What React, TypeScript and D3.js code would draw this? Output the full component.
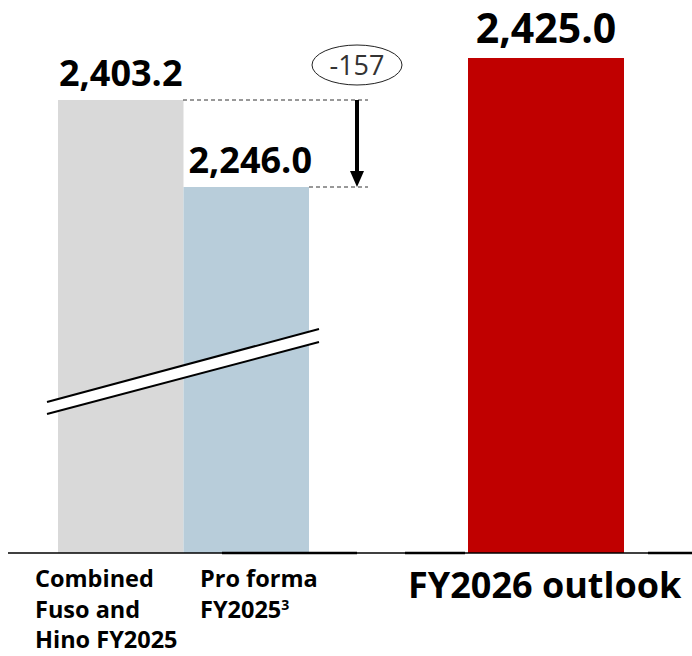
import * as d3 from 'd3';

const leftCategories = ['Combined Fuso and Hino FY2025', 'Pro forma FY2025'];
const leftValues = [2403.2, 2246.0];
const leftColors = ['#d9d9d9', '#b8cdda'];
const rightCategory = 'FY2026 outlook';
const rightValue = 2425.0;
const deltaLabel = '-157';

const W = 692;
const H = 656;
const baseY = 553;
const font = '"Open Sans", "Noto Sans", sans-serif';

export default function App() {
  const fmt = d3.format(',.1f');

  // left panel: broken axis, only the top of the bars is to scale
  const xLeft = d3.scaleBand().domain(leftCategories).range([58, 309]).padding(0);
  const yLeft = d3.scaleLinear().domain([leftValues[1], leftValues[0]]).range([187, 100]);
  const yRight = d3.scaleLinear().domain([0, rightValue]).range([baseY, 58]);
  const xRight = d3.scaleBand().domain([rightCategory]).range([468, 624]).padding(0);

  const yTop = yLeft(leftValues[0]);
  const yBot = yLeft(leftValues[1]);
  const arrowX = 357;

  return (
    <svg width={W} height={H} style={{ position: 'absolute', left: 0, top: 0 }}>
      {leftCategories.map((c, i) => (
        <rect
          key={c}
          x={xLeft(c)}
          y={yLeft(leftValues[i])}
          width={xLeft.bandwidth()}
          height={baseY - yLeft(leftValues[i])}
          fill={leftColors[i]}
        />
      ))}
      <rect
        x={xRight(rightCategory)}
        y={yRight(rightValue)}
        width={xRight.bandwidth()}
        height={baseY - yRight(rightValue)}
        fill="#c00000"
      />

      {/* axis break */}
      <polygon points="47,402 319,329 319,342 47,414" fill="#fff" />
      <line x1={47} y1={402} x2={319} y2={329} stroke="#000" strokeWidth={2} />
      <line x1={47} y1={414} x2={319} y2={342} stroke="#000" strokeWidth={2} />

      {/* baseline */}
      <line x1={8} x2={W} y1={baseY} y2={baseY} stroke="#000" strokeWidth={1.5} />
      {[[222, 357], [405, 465], [648, 692]].map(([a, b]) => (
        <line key={a} x1={a} x2={b} y1={baseY} y2={baseY} stroke="#000" strokeWidth={2.5} />
      ))}

      {/* value labels */}
      {leftCategories.map((c, i) => (
        <text
          key={c}
          x={(xLeft(c) ?? 0) + xLeft.bandwidth() / 2 + (i === 1 ? 4 : 0)}
          y={yLeft(leftValues[i]) - 14}
          textAnchor="middle"
          fontFamily={font}
          fontWeight={700}
          fontSize={36}
          fill="#000"
        >
          {fmt(leftValues[i])}
        </text>
      ))}
      <text
        x={(xRight(rightCategory) ?? 0) + xRight.bandwidth() / 2}
        y={yRight(rightValue) - 15}
        textAnchor="middle"
        fontFamily={font}
        fontWeight={700}
        fontSize={41}
        fill="#000"
      >
        {fmt(rightValue)}
      </text>

      {/* delta annotation */}
      <line x1={183} x2={368} y1={yTop} y2={yTop} stroke="#333" strokeWidth={1} strokeDasharray="4,3" />
      <line x1={309} x2={368} y1={yBot} y2={yBot} stroke="#333" strokeWidth={1} strokeDasharray="4,3" />
      <line x1={arrowX} x2={arrowX} y1={yTop} y2={yBot - 14} stroke="#000" strokeWidth={4} />
      <polygon points={`${arrowX - 7},${yBot - 16} ${arrowX + 7},${yBot - 16} ${arrowX},${yBot}`} fill="#000" />
      <ellipse cx={357} cy={65} rx={45} ry={20} fill="#fff" stroke="#222" strokeWidth={1} />
      <text x={357} y={75} textAnchor="middle" fontFamily={font} fontSize={27} fill="#333">
        {deltaLabel}
      </text>

      {/* category labels */}
      <text fontFamily={font} fontWeight={700} fontSize={23.5} fill="#000">
        <tspan x={35} y={587}>Combined</tspan>
        <tspan x={35} y={618}>Fuso and</tspan>
        <tspan x={35} y={648}>Hino FY2025</tspan>
      </text>
      <text x={200} y={587} fontFamily={font} fontWeight={700} fontSize={23.5} fill="#000">
        Pro forma
      </text>
      <text x={200} y={618} fontFamily={font} fontWeight={700} fontSize={23.5} fill="#000">
        FY2025<tspan dy={-8} fontSize={14}>3</tspan>
      </text>
      <text x={408} y={598} fontFamily={font} fontWeight={700} fontSize={36} fill="#000">
        {rightCategory}
      </text>
    </svg>
  );
}
